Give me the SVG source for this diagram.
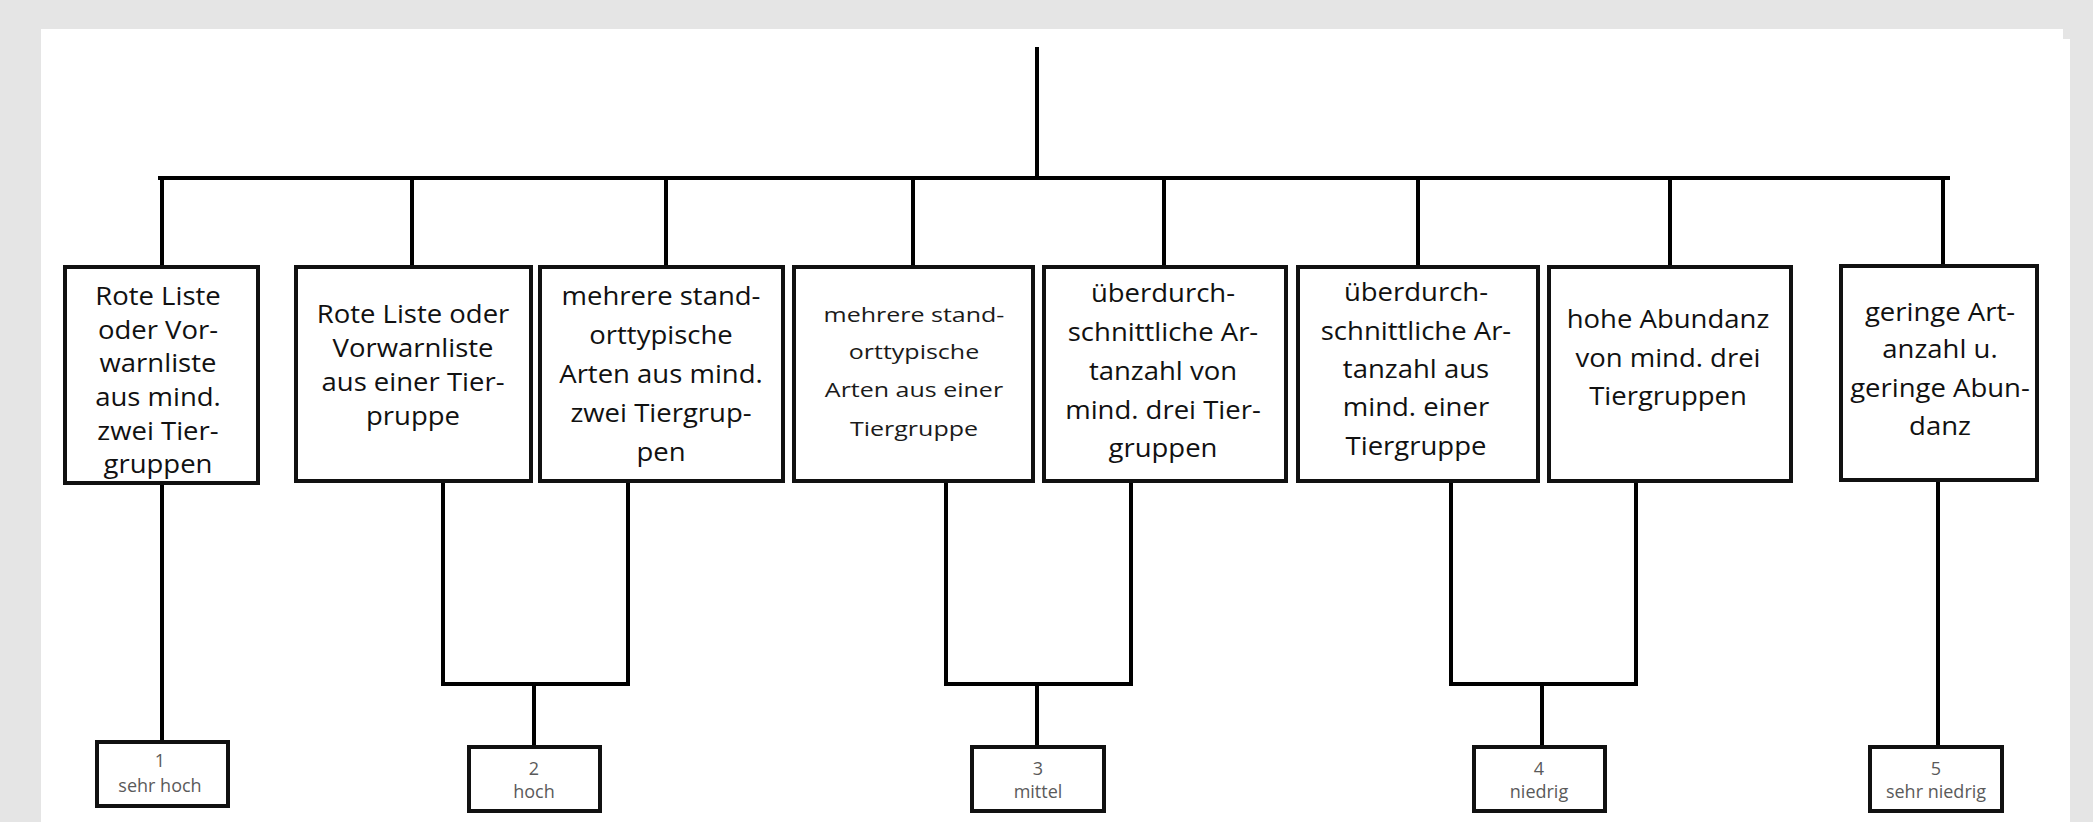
<svg xmlns="http://www.w3.org/2000/svg" width="2093" height="822" viewBox="0 0 2093 822">
<style>
.bg{fill:#e5e5e5}
.panel{fill:#ffffff}
.box{fill:#ffffff;stroke:#111;stroke-width:4}
.leaf{fill:#ffffff;stroke:#111;stroke-width:4}
.ln{stroke:#000;stroke-width:4;fill:none;stroke-linecap:square}
.t{font-family:"Open Sans","Noto Sans","Liberation Sans",sans-serif;font-size:25px;fill:#111;text-anchor:middle;transform-box:fill-box;transform-origin:center;transform:scaleX(1.1)}
.ts{font-family:"Open Sans","Noto Sans","Liberation Sans",sans-serif;font-size:20px;fill:#1a1a1a;text-anchor:middle;transform-box:fill-box;transform-origin:center;transform:scaleX(1.25)}
.lt{font-family:"Open Sans","Noto Sans","Liberation Sans",sans-serif;font-size:18px;fill:#5a5a5a;text-anchor:middle}
</style>
<rect class="bg" x="0" y="0" width="2093" height="822"/>
<rect class="panel" x="41" y="29" width="2022" height="793"/>
<rect class="panel" x="2062" y="39" width="8" height="783"/>

<g id="connectors">
  <line class="ln" x1="1037" y1="49" x2="1037" y2="178"/>
  <line class="ln" x1="160" y1="178" x2="1948" y2="178"/>
  <line class="ln" x1="162" y1="178" x2="162" y2="266"/>
  <line class="ln" x1="412" y1="178" x2="412" y2="266"/>
  <line class="ln" x1="666" y1="178" x2="666" y2="266"/>
  <line class="ln" x1="913" y1="178" x2="913" y2="266"/>
  <line class="ln" x1="1164" y1="178" x2="1164" y2="266"/>
  <line class="ln" x1="1418" y1="178" x2="1418" y2="266"/>
  <line class="ln" x1="1670" y1="178" x2="1670" y2="266"/>
  <line class="ln" x1="1943" y1="178" x2="1943" y2="265"/>
  <line class="ln" x1="162" y1="483" x2="162" y2="742"/>
  <path class="ln" d="M443 481 V684 H628 V481"/>
  <line class="ln" x1="534" y1="684" x2="534" y2="747"/>
  <path class="ln" d="M946 481 V684 H1131 V481"/>
  <line class="ln" x1="1037" y1="684" x2="1037" y2="747"/>
  <path class="ln" d="M1451 481 V684 H1636 V481"/>
  <line class="ln" x1="1542" y1="684" x2="1542" y2="747"/>
  <line class="ln" x1="1938" y1="480" x2="1938" y2="747"/>
</g>

<g id="n1">
  <rect class="box" x="65" y="267" width="193" height="216"/>
  <text class="t" x="158" y="305">Rote Liste</text>
  <text class="t" x="158" y="339">oder Vor-</text>
  <text class="t" x="158" y="372">warnliste</text>
  <text class="t" x="158" y="406">aus mind.</text>
  <text class="t" x="158" y="440">zwei Tier-</text>
  <text class="t" x="158" y="473">gruppen</text>
</g>
<g id="n2">
  <rect class="box" x="296" y="267" width="235" height="214"/>
  <text class="t" x="413" y="323">Rote Liste oder</text>
  <text class="t" x="413" y="357">Vorwarnliste</text>
  <text class="t" x="413" y="391">aus einer Tier-</text>
  <text class="t" x="413" y="425">pruppe</text>
</g>
<g id="n3">
  <rect class="box" x="540" y="267" width="243" height="214"/>
  <text class="t" x="661" y="305">mehrere stand-</text>
  <text class="t" x="661" y="344">orttypische</text>
  <text class="t" x="661" y="383">Arten aus mind.</text>
  <text class="t" x="661" y="422">zwei Tiergrup-</text>
  <text class="t" x="661" y="461">pen</text>
</g>
<g id="n4">
  <rect class="box" x="794" y="267" width="239" height="214"/>
  <text class="ts" x="914" y="322">mehrere stand-</text>
  <text class="ts" x="914" y="359">orttypische</text>
  <text class="ts" x="914" y="397">Arten aus einer</text>
  <text class="ts" x="914" y="436">Tiergruppe</text>
</g>
<g id="n5">
  <rect class="box" x="1044" y="267" width="242" height="214"/>
  <text class="t" x="1163" y="302">überdurch-</text>
  <text class="t" x="1163" y="341">schnittliche Ar-</text>
  <text class="t" x="1163" y="380">tanzahl von</text>
  <text class="t" x="1163" y="419">mind. drei Tier-</text>
  <text class="t" x="1163" y="457">gruppen</text>
</g>
<g id="n6">
  <rect class="box" x="1298" y="267" width="240" height="214"/>
  <text class="t" x="1416" y="301">überdurch-</text>
  <text class="t" x="1416" y="340">schnittliche Ar-</text>
  <text class="t" x="1416" y="378">tanzahl aus</text>
  <text class="t" x="1416" y="416">mind. einer</text>
  <text class="t" x="1416" y="455">Tiergruppe</text>
</g>
<g id="n7">
  <rect class="box" x="1549" y="267" width="242" height="214"/>
  <text class="t" x="1668" y="328">hohe Abundanz</text>
  <text class="t" x="1668" y="367">von mind. drei</text>
  <text class="t" x="1668" y="405">Tiergruppen</text>
</g>
<g id="n8">
  <rect class="box" x="1841" y="266" width="196" height="214"/>
  <text class="t" x="1940" y="321">geringe Art-</text>
  <text class="t" x="1940" y="358">anzahl u.</text>
  <text class="t" x="1940" y="397">geringe Abun-</text>
  <text class="t" x="1940" y="435">danz</text>
</g>

<g id="leaf1">
  <rect class="leaf" x="97" y="742" width="131" height="64"/>
  <text class="lt" x="160" y="767">1</text>
  <text class="lt" x="160" y="792">sehr hoch</text>
</g>
<g id="leaf2">
  <rect class="leaf" x="469" y="747" width="131" height="64"/>
  <text class="lt" x="534" y="775">2</text>
  <text class="lt" x="534" y="798">hoch</text>
</g>
<g id="leaf3">
  <rect class="leaf" x="972" y="747" width="132" height="64"/>
  <text class="lt" x="1038" y="775">3</text>
  <text class="lt" x="1038" y="798">mittel</text>
</g>
<g id="leaf4">
  <rect class="leaf" x="1474" y="747" width="131" height="64"/>
  <text class="lt" x="1539" y="775">4</text>
  <text class="lt" x="1539" y="798">niedrig</text>
</g>
<g id="leaf5">
  <rect class="leaf" x="1870" y="747" width="132" height="64"/>
  <text class="lt" x="1936" y="775">5</text>
  <text class="lt" x="1936" y="798">sehr niedrig</text>
</g>
</svg>
